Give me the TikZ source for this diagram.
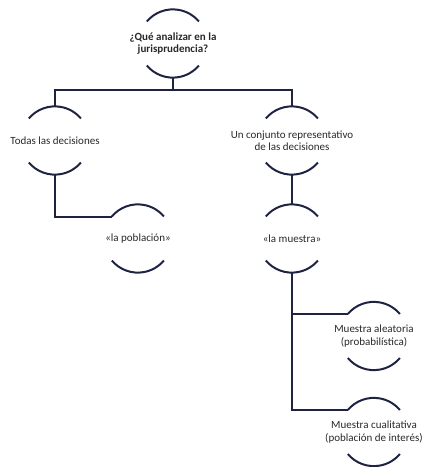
\documentclass[tikz,border=0pt]{standalone}
\usepackage{fontspec}
\setmainfont{Carlito}
\definecolor{navy}{RGB}{30,35,66}
\definecolor{txt}{RGB}{40,40,40}
\begin{document}
\begin{tikzpicture}[x=1pt,y=1pt,
  item/.style={circle,minimum size=68pt,inner sep=0pt,draw=none},
  caption/.style={align=center,text=txt,inner sep=0pt,font=\fontsize{11}{12.5}\selectfont},
  link/.style={draw=navy,line width=2pt}]
\useasboundingbox (0,0) rectangle (423,467);
% nodes: a fixed circle frame with the text placed at its centre
\node[item] (q) at (173,423.5) {};
\node[caption,font=\fontsize{11}{12.5}\selectfont\bfseries] (qt) at (q.center) {¿Qué analizar en la\\jurisprudencia?};
\node[item] (todas) at (55,326.5) {};
\node[caption] (todast) at (todas.center) {Todas las decisiones};
\node[item] (conj) at (292,326.5) {};
\node[caption] (conjt) at (conj.center) {Un conjunto representativo\\de las decisiones};
\node[item] (pob) at (138,228.5) {};
\node[caption] (pobt) at (pob.center) {«la población»};
\node[item] (mue) at (292,228.5) {};
\node[caption] (muet) at (mue.center) {«la muestra»};
\node[item] (ale) at (374,131) {};
\node[caption] (alet) at (ale.center) {Muestra aleatoria\\(probabilística)};
\node[item] (cua) at (374,35) {};
\node[caption] (cuat) at (cua.center) {Muestra cualitativa\\(población de interés)};
% the two arcs around each node
\foreach \n in {q,todas,conj,pob,mue,ale,cua}{
  \draw[link] (\n.140) arc[start angle=140,end angle=40,radius=34];
  \draw[link] (\n.-140) arc[start angle=-140,end angle=-40,radius=34];
}
% connectors
\draw[link] (q.south) -- ++(0,-12) coordinate (qj);
\draw[link] (qj) -| (todas.north);
\draw[link] (qj) -| (conj.north);
\draw[link] (todas.south) |- (pob.140);
\draw[link] (conj.south) -- (mue.north);
\draw[link] (mue.south) |- (ale.140);
\draw[link] (mue.south) |- (cua.140);
\end{tikzpicture}
\end{document}
